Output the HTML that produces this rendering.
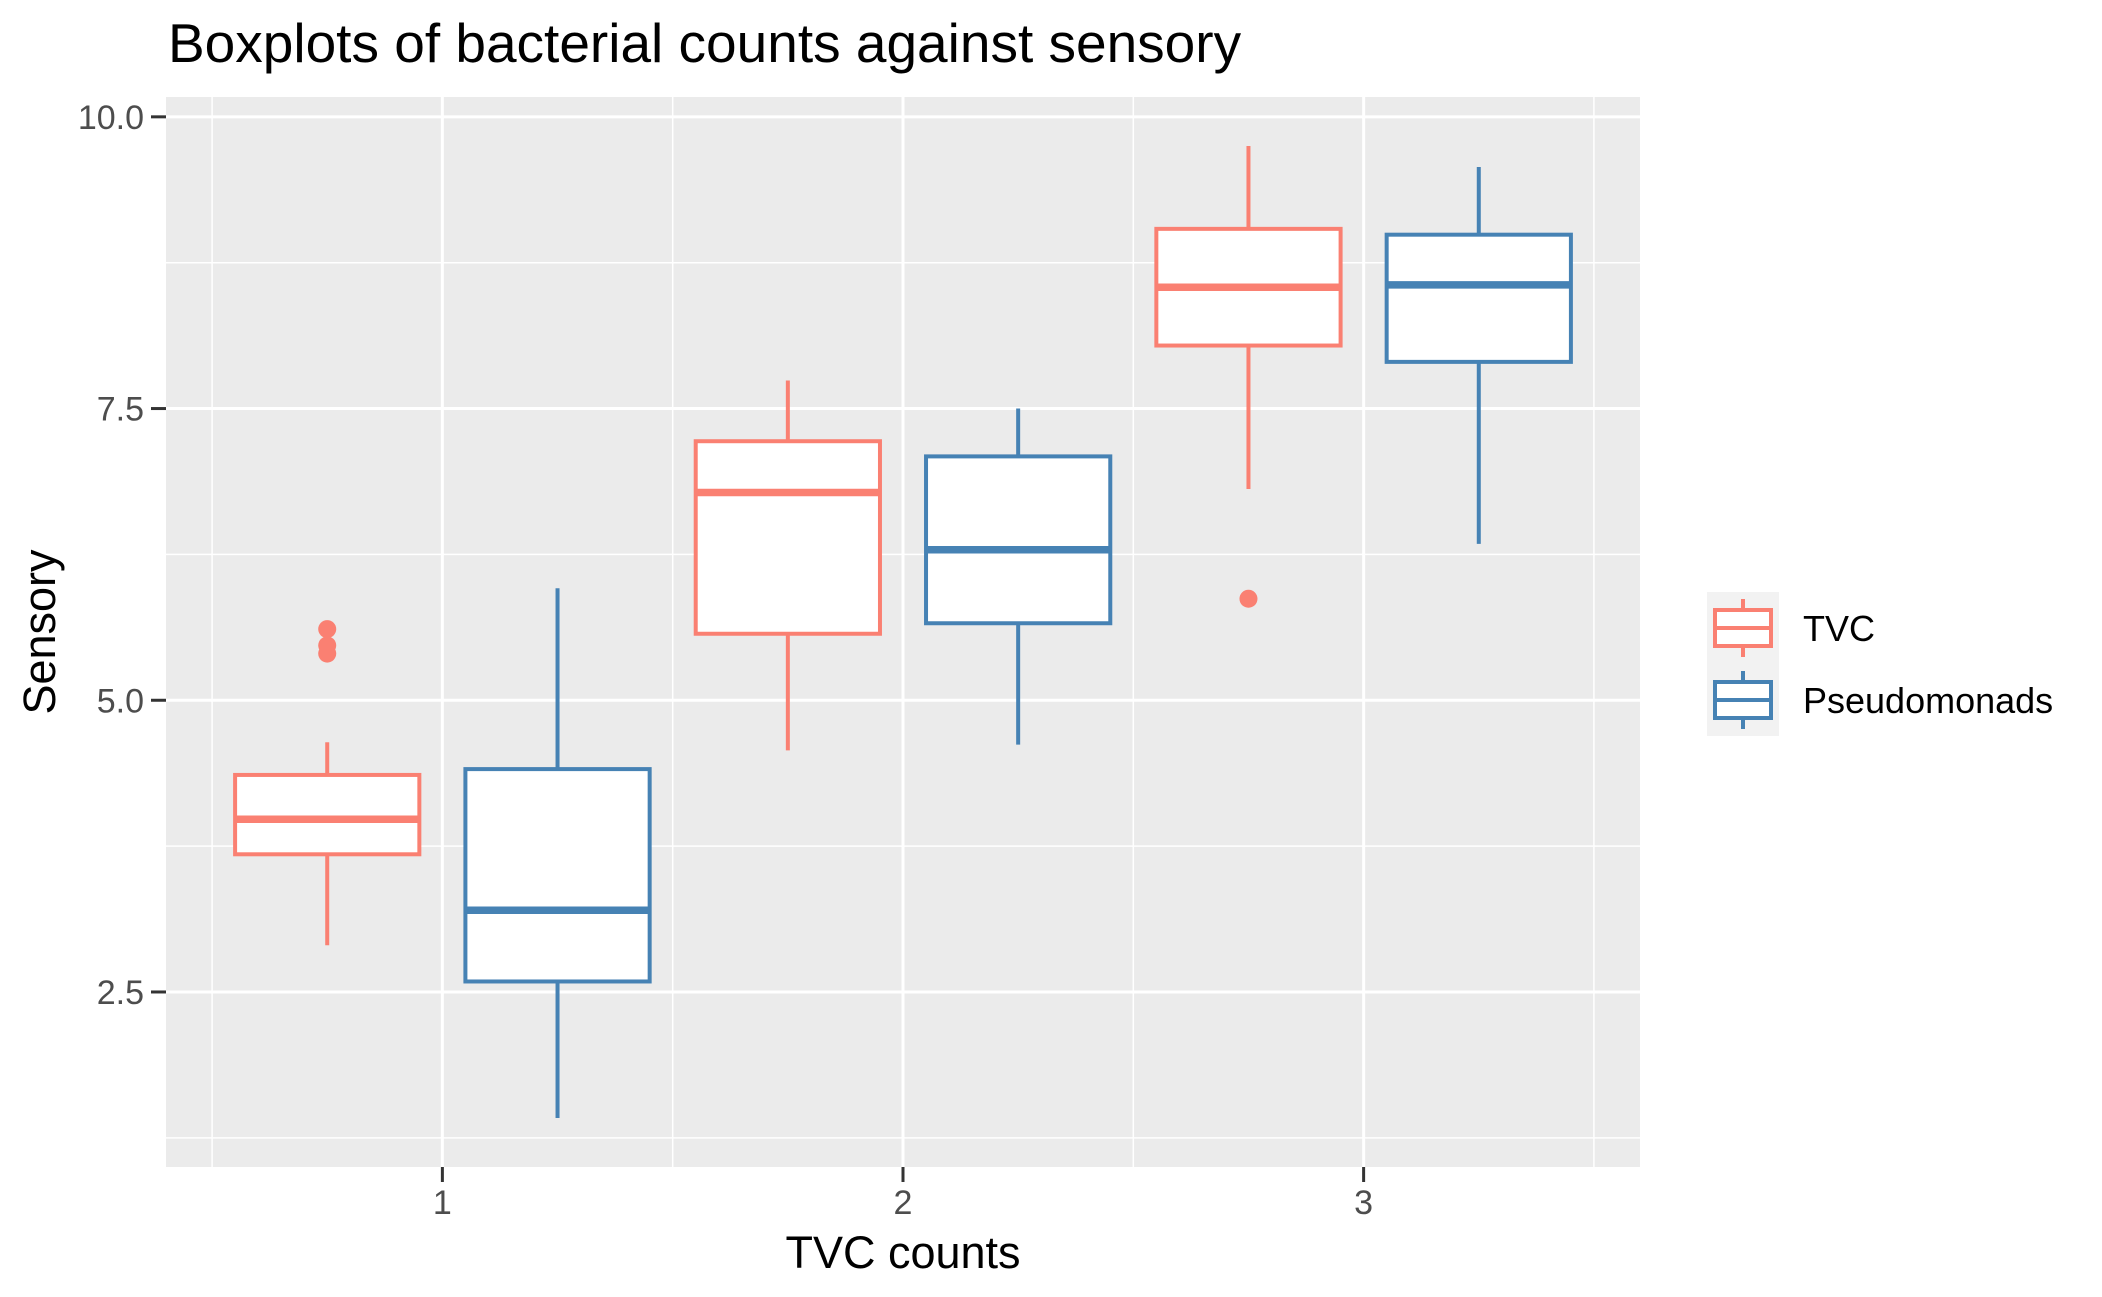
<!DOCTYPE html>
<html><head><meta charset="utf-8"><style>
html,body{margin:0;padding:0;background:#fff;}
svg{display:block;font-family:"Liberation Sans",Arial,sans-serif;}
</style></head><body>
<svg id="chart" width="2102" height="1297" viewBox="0 0 2102 1297">
<text x="168" y="62" font-size="55" fill="#000">Boxplots of bacterial counts against sensory</text>
<rect x="166" y="97" width="1474" height="1070" fill="#EBEBEB"/>
<g id="grid"></g>
<g id="boxes"></g>
<g id="axes"></g>
<text x="903" y="1268" font-size="45" text-anchor="middle" fill="#000">TVC counts</text>
<text transform="translate(55,632) rotate(-90)" font-size="45" text-anchor="middle" fill="#000">Sensory</text>
<g>
<rect x="1707" y="592" width="72" height="144" fill="#F2F2F2"/>
<g stroke="#FA8072" stroke-width="4" fill="#fff">
<line x1="1743" y1="599" x2="1743" y2="657"/>
<rect x="1715" y="610" width="56" height="36"/>
<line x1="1715" y1="628" x2="1771" y2="628"/>
</g>
<g stroke="#4682B4" stroke-width="4" fill="#fff">
<line x1="1743" y1="671" x2="1743" y2="729"/>
<rect x="1715" y="682" width="56" height="36"/>
<line x1="1715" y1="700" x2="1771" y2="700"/>
</g>
<text x="1803" y="641" font-size="36" fill="#000">TVC</text>
<text x="1803" y="713" font-size="36" fill="#000">Pseudomonads</text>
</g>
</svg>
<script>
const categories = ["1","2","3"];
const series = ["TVC","Pseudomonads"];
const seriesColors = ["#FA8072","#4682B4"];
const yTicks = [2.5,5.0,7.5,10.0];
const yTickLabels = ["2.5","5.0","7.5","10.0"];
// [lowWhisker, q1, median, q3, highWhisker] per category
const tvcStats = [[2.90,3.68,3.98,4.36,4.64],[4.57,5.57,6.78,7.22,7.74],[6.81,8.04,8.54,9.04,9.75]];
const pseStats = [[1.42,2.59,3.20,4.41,5.96],[4.62,5.66,6.29,7.09,7.50],[6.34,7.90,8.56,8.99,9.57]];
const tvcOutliers = [[5.61,5.47,5.40],[],[5.87]];
const pseOutliers = [[],[],[]];

const NS="http://www.w3.org/2000/svg";
const px0=166, px1=1640, py0=97, py1=1167;
const xmin=0.4, xmax=3.6, ymin=1.0, ymax=10.17;
function xs(v){return px0+(v-xmin)/(xmax-xmin)*(px1-px0);}
function ys(v){return py1-(v-ymin)/(ymax-ymin)*(py1-py0);}
function mk(tag,attrs,parent){const e=document.createElementNS(NS,tag);for(const k in attrs)e.setAttribute(k,attrs[k]);parent.appendChild(e);return e;}
const grid=document.getElementById('grid'), boxes=document.getElementById('boxes'), axes=document.getElementById('axes');
for(let i=0;i<yTicks.length;i++){
  const mv=yTicks[i]-1.25;
  const l=mk('line',{x1:px0,x2:px1,y1:ys(mv),y2:ys(mv),stroke:'#fff','stroke-width':1.5},grid);
  
  
}
for(let i=0;i<=categories.length;i++){
  const mv=i+0.5;
  const l=mk('line',{x1:xs(mv),x2:xs(mv),y1:py0,y2:py1,stroke:'#fff','stroke-width':1.5},grid);
  
  
}
yTicks.forEach((v,i)=>{
  const l=mk('line',{x1:px0,x2:px1,y1:ys(v),y2:ys(v),stroke:'#fff','stroke-width':3},grid);
  
  
  const t=mk('line',{x1:px0-15,x2:px0,y1:ys(v),y2:ys(v),stroke:'#333','stroke-width':3},axes);
  
  
  const tx=mk('text',{x:px0-22,y:ys(v)+12,'font-size':34,'text-anchor':'end',fill:'#4D4D4D'},axes);
  tx.textContent=yTickLabels[i];
  
  
});
categories.forEach((c,i)=>{
  const v=i+1;
  const l=mk('line',{x1:xs(v),x2:xs(v),y1:py0,y2:py1,stroke:'#fff','stroke-width':3},grid);
  
  
  const t=mk('line',{x1:xs(v),x2:xs(v),y1:py1,y2:py1+15,stroke:'#333','stroke-width':3},axes);
  
  
  const tx=mk('text',{x:xs(v),y:py1+47,'font-size':34,'text-anchor':'middle',fill:'#4D4D4D'},axes);
  tx.textContent=c;
  
  
});
const allStats=[tvcStats,pseStats], allOut=[tvcOutliers,pseOutliers], offs=[-0.25,0.25], bw=0.4;
allStats.forEach((stats,s)=>{
  stats.forEach((st,i)=>{
    const cx=i+1+offs[s], col=seriesColors[s];
    const g=mk('g',{},boxes);
    
    
    mk('line',{x1:xs(cx),x2:xs(cx),y1:ys(st[0]),y2:ys(st[1]),stroke:col,'stroke-width':4},g);
    mk('line',{x1:xs(cx),x2:xs(cx),y1:ys(st[3]),y2:ys(st[4]),stroke:col,'stroke-width':4},g);
    mk('rect',{x:xs(cx-bw/2),y:ys(st[3]),width:xs(cx+bw/2)-xs(cx-bw/2),height:ys(st[1])-ys(st[3]),fill:'#fff',stroke:col,'stroke-width':4},g);
    mk('line',{x1:xs(cx-bw/2),x2:xs(cx+bw/2),y1:ys(st[2]),y2:ys(st[2]),stroke:col,'stroke-width':7.5},g);
    allOut[s][i].forEach(o=>{
      const p=mk('circle',{cx:xs(cx),cy:ys(o),r:9,fill:col},g);
      
      
    });
  });
});
</script>
</body></html>
